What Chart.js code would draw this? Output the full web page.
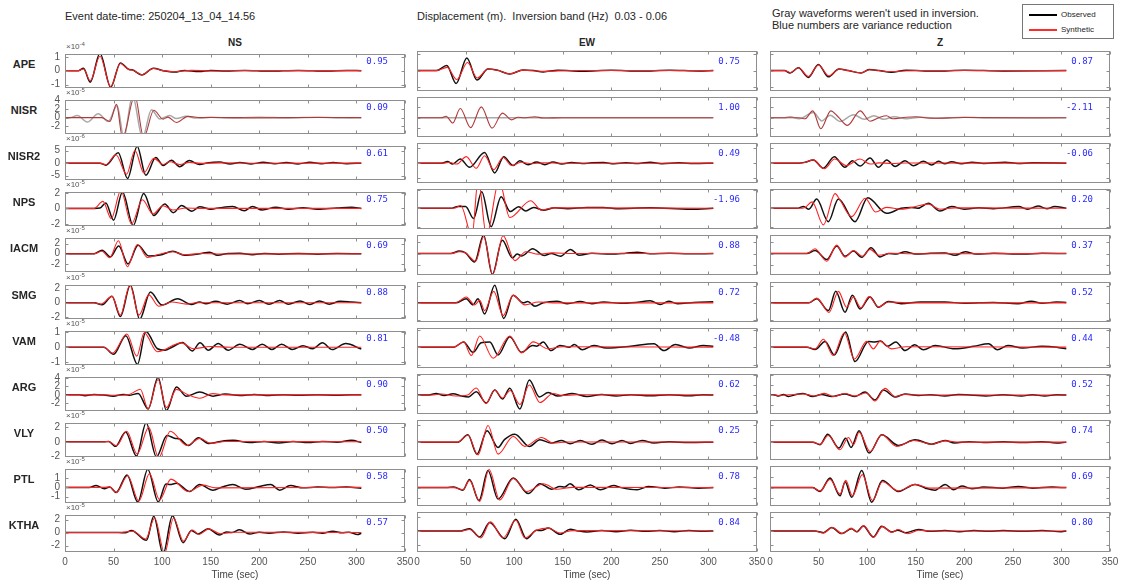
<!DOCTYPE html>
<html>
<head>
<meta charset="utf-8">
<script src="https://cdn.jsdelivr.net/npm/chart.js@4.4.1/dist/chart.umd.min.js"></script>
<style>
  body { margin: 0; background: #fff; font-family: "Liberation Sans", Arial, sans-serif; }
  #fig { position: relative; width: 1123px; height: 583px; overflow: hidden; }
  #fig canvas { position: absolute; }
  .txt { position: absolute; white-space: nowrap; line-height: 1; color: #262626; }
  .head { font-size: 11px; transform: translateY(-50%); }
  .comp { font-size: 10px; font-weight: bold; transform: translate(-50%, -50%); }
  .sta { font-size: 11px; font-weight: bold; transform: translate(-50%, -50%); }
  .expo { font-size: 8px; color: #555; transform: translateY(-50%); }
  .expo sup { font-size: 6px; vertical-align: 3px; }
  .vr { font-family: "DejaVu Sans Mono", monospace; font-size: 9px; color: #2b2bff; transform: translate(-100%, -50%); }
  .legend { position: absolute; left: 1022px; top: 4px; width: 90px; height: 33px; border: 1px solid #777; background: #fff; }
  .legend .ln { position: absolute; left: 6px; width: 28px; height: 2px; }
  .legend .lt { position: absolute; left: 38px; font-size: 8px; line-height: 1; transform: translateY(-50%); color: #262626; }
</style>
</head>
<body>
<div id="fig"></div>
<script>
// ---- layout data: stations, components, axis ticks ----
const stations = ['APE', 'NISR', 'NISR2', 'NPS', 'IACM', 'SMG', 'VAM', 'ARG', 'VLY', 'PTL', 'KTHA'];
const components = ['NS', 'EW', 'Z'];
const unusedStations = ['NISR'];   // drawn gray: not used in inversion
const exponents = [-4, -5, -6, -5, -5, -5, -5, -5, -5, -5, -5];
const yTickValues = [
  [-1, 0, 1], [-2, 0, 2, 4], [-5, 0, 5], [-2, 0, 2], [-2, 0, 2], [-2, 0, 2],
  [-1, 0, 1], [-2, 0, 2, 4], [-2, 0, 2], [-1, 0, 1], [-2, 0, 2]
];
const yRanges = [
  [-1.25, 1.2], [-3.7, 4], [-6.7, 6.8], [-2.25, 2.1], [-3.6, 3.1], [-2.3, 2.5],
  [-1.2, 1.1], [-3.8, 4.2], [-2.1, 2.6], [-1.7, 2.0], [-3.0, 2.7]
];
const xTickValues = [0, 50, 100, 150, 200, 250, 300, 350];
const varianceReduction = [
  ['0.95', '0.75', '0.87'], ['0.09', '1.00', '-2.11'], ['0.61', '0.49', '-0.06'],
  ['0.75', '-1.96', '0.20'], ['0.69', '0.88', '0.37'], ['0.88', '0.72', '0.52'],
  ['0.81', '-0.48', '0.44'], ['0.90', '0.62', '0.52'], ['0.50', '0.25', '0.74'],
  ['0.58', '0.78', '0.69'], ['0.57', '0.84', '0.80']
];

// ---- waveforms: [time (s), amplitude in units of 10^exponent] ----
const APE_NS_obs = [[0,0],[14,0],[19,0.17],[26,-0.83],[36,1.25],[47,-1.19],[57,0.56],[66,0.08],[69,0.06],[79,-0.31],[91,0.17],[101,0],[113,-0.1],[123,0.02],[138,-0.06],[150,0.02],[165,-0.03],[185,0.02],[210,-0.03],[240,0.02],[270,-0.03],[290,0.01],[305,0]];
const APE_NS_syn = [[0,0],[14,0],[19,0.12],[26,-0.73],[36,1.04],[47,-1.15],[57,0.52],[66,0.06],[69,0.05],[79,-0.29],[91,0.15],[101,0],[113,-0.08],[130,0.02],[150,-0.02],[180,0.01],[305,0]];
const APE_EW_obs = [[0,0],[20,0],[30.6,0.31],[40.3,-0.79],[51.3,0.77],[61.7,-0.58],[73,0.1],[83,0.02],[95.5,-0.21],[109,0.04],[120,0],[130,-0.08],[145,0.02],[170,-0.04],[200,0.02],[230,-0.03],[260,0.02],[290,-0.02],[305,0]];
const APE_EW_syn = [[0,0],[20,0],[31,0.2],[41,-0.55],[52,0.5],[62,-0.45],[73,0.08],[83,0.02],[95.5,-0.2],[109,0.03],[130,-0.05],[160,0.01],[305,0]];
const APE_Z_obs = [[0,0],[15,0],[20.6,-0.15],[29.2,0.17],[39.5,-0.42],[49.8,0.38],[60.1,-0.38],[71,0.1],[80.7,0],[93.7,-0.15],[102,0.06],[112,0],[125,-0.1],[140,0.02],[170,-0.03],[200,0.02],[240,-0.02],[305,0]];
const APE_Z_syn = [[0,0],[15,0],[21,-0.12],[29.5,0.17],[39.5,-0.36],[50,0.34],[60.5,-0.32],[71,0.08],[81,0],[93.7,-0.13],[102,0.05],[125,-0.06],[150,0.01],[305,0]];

const NISR_NS_obs = [[0,0],[5,0],[12.7,0.47],[22.9,-1.0],[34.2,0.87],[44.5,-0.87],[53.7,2.7],[60.6,-4.5],[69.5,5.0],[79.8,-4.5],[89,1.8],[97.6,-0.3],[108,0.47],[114.5,-0.2],[124.8,0.3],[135,-0.1],[150,0.1],[170,-0.1],[200,0.1],[230,-0.08],[260,0.1],[290,-0.1],[305,0]];
const NISR_NS_syn = [[0,0],[38,0],[46.2,-0.87],[53,3.0],[59.2,-4.5],[71.9,5.0],[81,-4.5],[91.4,1.67],[101,-0.33],[106,0.13],[114.7,-1.1],[126.6,0.3],[140,0],[160,0.05],[200,-0.05],[250,0.05],[305,0]];
const NISR_EW_obs = [[0,0],[305,0]];
const NISR_EW_syn = [[0,0],[25,0],[30,0.3],[36.8,-1.0],[44.5,1.8],[55.2,-1.9],[66.2,2.1],[77.3,-2.0],[88,0.9],[97.3,-0.4],[104,0.1],[110,0],[121.4,0.2],[130,-0.05],[150,0.02],[305,0]];
const NISR_Z_obs = [[0,0],[15,0],[20.6,0.2],[30,-0.2],[44.7,1.0],[53.3,-0.6],[61.9,0.5],[72,-0.7],[86,0.6],[97,-0.3],[107,0.4],[117,-0.3],[128,0.2],[140,-0.2],[155,0.1],[175,-0.1],[200,0.1],[230,-0.05],[305,0]];
const NISR_Z_syn = [[0,0],[30,0],[36,-0.2],[44,1.33],[52.3,-2.1],[62.6,1.33],[70,0.2],[79.7,-1.47],[92.8,1.33],[103,-0.67],[113,0.1],[120,0.4],[126,-0.2],[140,0.1],[150,0.2],[165,-0.1],[200,0.05],[305,0]];

const NISR2_NS_obs = [[0,0],[36,0],[42,-0.8],[54.8,4.1],[64.4,-6.1],[74.3,6.7],[83.2,-4.8],[93.5,2.2],[101,-0.9],[109.6,1.1],[118,-1.4],[128,1.0],[138.4,-0.55],[148,0.2],[159,0.4],[170,-0.3],[180,0.2],[192,-0.3],[204,0.3],[216,-0.2],[228,0.2],[240,-0.3],[252,0.3],[264,-0.2],[276,0.2],[290,-0.2],[305,0]];
const NISR2_NS_syn = [[0,0],[36,0],[42,-0.6],[52.4,3.3],[63.4,-4.4],[72,5.0],[81.2,-3.9],[91.4,1.9],[101,-0.55],[108,0.55],[118,-0.55],[128,0.3],[140,-0.1],[160,0.1],[200,-0.05],[305,0]];
const NISR2_EW_obs = [[0,0],[25,0],[31.5,0.55],[36.7,-0.3],[44.5,1.4],[54.1,-1.4],[69.6,3.6],[80,-3.3],[89.3,2.2],[98.9,-0.8],[105.8,0.8],[114.5,-0.55],[123,0.4],[131.6,-0.5],[140,0.4],[149,-0.3],[159,0.2],[170,-0.1],[180,0.1],[192,0.2],[203,-0.2],[215,0.1],[228,-0.1],[240,0.3],[252,-0.2],[270,0.1],[285,-0.1],[305,0]];
const NISR2_EW_syn = [[0,0],[28,0],[33,0.3],[40.9,-0.3],[50.7,2.2],[61,-1.7],[69.6,2.5],[79,-2.2],[88.6,1.9],[97.3,-0.8],[107,0.3],[118,-0.2],[130,0.1],[150,-0.05],[305,0]];
const NISR2_Z_obs = [[0,0],[30,0],[36,0.3],[44.6,1.1],[54.9,-1.7],[66.2,2.2],[77.2,-1.4],[84.8,0.8],[92.7,-1.0],[103,1.7],[111.6,-1.4],[120.2,1.1],[128.8,-1.1],[139,0.8],[147.6,-0.9],[158,0.6],[166.5,-0.6],[173.4,0.6],[180,-0.2],[187,0.5],[197,-0.2],[208,0.3],[220,-0.1],[242,0.3],[255,-0.1],[270,0.1],[305,0]];
const NISR2_Z_syn = [[0,0],[30,0],[36,0.2],[44.6,1.1],[56,-1.9],[66.5,1.4],[78.5,-0.8],[92.7,1.4],[103,-0.3],[112,0.1],[125,-0.1],[140,0.05],[305,0]];

const NPS_NS_obs = [[0,0],[30,0],[36,0.05],[42,0.7],[50,-1.5],[59.2,2.1],[70.2,-2.2],[81,1.9],[91.4,-0.9],[102.7,0.55],[111.5,-0.55],[120,0.36],[130.6,-0.36],[138.7,0.2],[150,-0.1],[160,0.1],[172.6,0.25],[184.6,-0.3],[193,0.25],[203,-0.2],[217,0.15],[230,-0.1],[245,0.1],[260,-0.1],[280,0.05],[295,0.15],[305,0]];
const NPS_NS_syn = [[0,0],[30,0],[39,0.9],[47.6,-1.3],[57.5,2.3],[68.4,-2.0],[79.7,1.1],[90.4,-0.7],[100.7,0.35],[111,-0.2],[125,0.05],[140,0],[305,0]];
const NPS_EW_obs = [[0,0],[35,0],[42,0.2],[50,0.2],[58.3,-1.1],[66.6,1.8],[76.3,-2.0],[86.6,1.27],[96,-0.36],[104.6,0.18],[112,-0.3],[120,0.1],[130,-0.2],[142,0.05],[155,-0.05],[175,0.1],[192,0.1],[205,-0.05],[240,0.05],[282,-0.1],[305,0]];
const NPS_EW_syn = [[0,0],[38,0],[45,0.3],[56.6,-3.0],[63,3.2],[71.5,-3.0],[84.5,3.0],[95.5,-1.0],[117,0.83],[128,-0.2],[140,0.05],[305,0]];
const NPS_Z_obs = [[0,0],[28,0],[34.5,0.2],[40,-0.1],[48.1,1.0],[60,-1.45],[70.4,1.0],[87.5,-1.45],[100.6,1.15],[120,-0.55],[135,0],[145,0.1],[152,0],[163,0.55],[175,-0.3],[187,0.2],[200,-0.1],[215,0.05],[230,-0.05],[256,0.2],[265,-0.1],[276,0.25],[285,-0.05],[293,0.2],[305,0]];
const NPS_Z_syn = [[0,0],[30,0],[36,0.1],[43.3,0.7],[55,-1.8],[67,1.6],[72,0.9],[84,-0.9],[98,1.1],[108.7,-0.4],[120,0.1],[135,-0.1],[150,0.2],[163,0.45],[175,-0.1],[190,0.05],[305,0]];

const IACM_NS_obs = [[0,0],[30,0],[38.2,0.69],[46.7,-0.63],[55.3,1.54],[64.9,-2.0],[75.2,1.66],[86.2,-0.46],[98,-0.25],[111,0.5],[123,-0.3],[138.6,0],[148.9,0.3],[157,-0.3],[168,0.05],[180,0.1],[193,-0.2],[205,0.05],[220,-0.1],[240,0.05],[260,-0.1],[280,0.05],[305,0]];
const IACM_NS_syn = [[0,0],[30,0],[38,0.5],[46,-0.8],[55,2.57],[64.2,-2.57],[74.5,1.83],[85,-0.74],[97,-0.1],[111,0.4],[123,-0.2],[140,0.05],[160,-0.05],[305,0]];
const IACM_EW_obs = [[0,0],[35,0],[43.6,0.4],[50,0.1],[59.3,-1.43],[68.6,3.1],[77.5,-3.5],[87.8,2.23],[98.2,-0.74],[103,-0.1],[108,-0.4],[119,0.8],[131,-0.34],[138,0],[147.8,-0.46],[158,0.69],[166.8,-0.3],[180,0.05],[200,-0.1],[215,0.05],[226.6,0.2],[240,-0.05],[260,0.05],[280,-0.05],[305,0]];
const IACM_EW_syn = [[0,0],[35,0],[43.6,0.3],[50,0.1],[60.4,-1.3],[68.6,2.8],[78,-3.5],[88.6,3.0],[100.7,-1.2],[112,0.3],[125,-0.1],[140,0.1],[160,0],[305,0]];
const IACM_Z_obs = [[0,0],[38,0],[46.4,0.5],[58.4,-1.0],[68.7,1.26],[77.2,-0.46],[86,0.4],[94.4,-0.63],[104,0.97],[113.3,-0.57],[122,0],[130,-0.1],[139,0.3],[150,-0.1],[165,0.05],[180,0.1],[190.5,-0.3],[201,0.3],[212,-0.1],[230,0.05],[260,-0.1],[280,0.05],[305,0]];
const IACM_Z_syn = [[0,0],[38,0],[46.4,0.8],[58.4,-1.3],[68.7,1.4],[77.2,-0.6],[86,0.5],[95,-0.46],[103,0.69],[112,-0.3],[125,0.05],[150,-0.05],[305,0]];

const SMG_NS_obs = [[0,0],[30,0],[38.2,-0.3],[48.4,0.9],[57,-1.95],[67.3,2.5],[76.9,-2.36],[87.9,1.5],[99.9,-0.33],[116,0.57],[130,-0.24],[138.6,0.1],[145,-0.15],[155,0.2],[167,-0.2],[179.8,0.3],[188,-0.15],[200,0.3],[210,-0.2],[221,0.3],[230,-0.2],[242,0.25],[252,-0.25],[262,0.25],[272,-0.2],[283,0.2],[295,0.1],[305,0]];
const SMG_NS_syn = [[0,0],[30,0],[37,-0.2],[48.4,0.9],[57,-1.75],[66.8,2.5],[76.2,-1.75],[86.2,1.1],[96.5,-0.5],[110,0.1],[125,-0.2],[135,0],[305,0]];
const SMG_EW_obs = [[0,0],[40,0],[50.7,0.5],[57.6,-0.24],[62.8,0.5],[69.6,-1.34],[80,2.1],[89.3,-1.87],[98.9,0.9],[109.3,0],[114,0.15],[121.4,-0.4],[130,0],[143.8,0.2],[155,-0.1],[168,0.15],[180,-0.1],[192,0.1],[210,-0.05],[225,0.05],[240,0.25],[250.5,-0.2],[259,0.2],[268,-0.1],[285,0.05],[305,0.12]];
const SMG_EW_syn = [[0,0],[40,0],[50.7,0.7],[59.3,-0.24],[64.6,0.3],[69.6,-0.93],[79,1.38],[88.6,-1.54],[98.9,0.9],[111,-0.24],[125,0.1],[140,0],[305,0]];
const SMG_Z_obs = [[0,0],[40,0],[48.1,0.5],[60.1,-0.93],[67.7,1.38],[77.2,-1.14],[84.8,0.9],[92.7,-0.73],[103,0.7],[111.6,-0.53],[121.9,0.16],[135,-0.1],[155,0.1],[180,0.1],[200,-0.05],[230,0.05],[255,-0.1],[269,0.2],[280,-0.05],[295,0.1],[305,0.05]];
const SMG_Z_syn = [[0,0],[40,0],[48.1,0.57],[60.8,-1.14],[70.4,1.38],[78.9,-0.53],[86,0.7],[93.5,-0.6],[102,0.75],[111.6,-0.5],[122,0.1],[140,0],[305,0]];

const VAM_NS_obs = [[0,0],[40,0],[50,-0.48],[62.6,0.78],[74.6,-1.16],[83.2,1.07],[95.2,-0.1],[103,-0.2],[110,0],[121,0.33],[131,-0.25],[139,0.3],[147.5,-0.2],[157.7,0.25],[168,-0.2],[180,0.2],[193,-0.15],[203,0.2],[213,-0.15],[223,0.2],[234,-0.15],[245,0.1],[255,-0.1],[265,0.3],[275,-0.15],[289,0.25],[305,-0.12]];
const VAM_NS_syn = [[0,0],[40,0],[49,-0.4],[63.7,0.9],[73.9,-0.6],[81.5,0.97],[95,-0.3],[119.7,0.3],[132,-0.1],[150,0.05],[170,0],[305,0]];
const VAM_EW_obs = [[0,0],[38,0],[48,0.3],[57.6,-0.3],[66,0.25],[75,0.3],[83.5,-0.45],[95.5,0.6],[107.6,-0.3],[119,0.1],[123,0.05],[130,0.3],[138,-0.2],[147,0.1],[157,0],[162,0.15],[170,-0.15],[182,0.1],[195,-0.05],[220,0.05],[244,0.2],[254,-0.2],[266,0.15],[280,-0.05],[295,0.1],[305,0.05]];
const VAM_EW_syn = [[0,0],[38,0],[48,0.3],[55.9,-0.48],[64.6,0.64],[78.4,-0.64],[95.5,0.64],[107.6,-0.33],[119.7,0.3],[135,-0.1],[150,0.02],[305,0]];
const VAM_Z_obs = [[0,0],[38,0],[46.4,-0.14],[56.7,0.33],[66.2,-0.45],[77.9,0.87],[87.5,-0.83],[101.3,0.33],[108,0.3],[114,0.35],[121,0.05],[129.6,0.3],[139,-0.2],[149,0.13],[158,-0.15],[170,0.1],[190,-0.1],[210,0.05],[225,0.2],[234,-0.15],[245,0.1],[260,-0.05],[280,0.05],[295,0],[305,-0.1]];
const VAM_Z_syn = [[0,0],[38,0],[46.4,-0.1],[55,0.45],[65,-0.48],[76.5,0.83],[86.8,-0.68],[99.6,0.33],[106.4,-0.1],[113.3,0.33],[125.3,-0.1],[140,0.02],[305,0]];

const ARG_NS_obs = [[0,0],[15,0],[20.5,-0.2],[30,0.1],[40,-0.05],[49.6,-0.3],[60,0.1],[66,-0.1],[75.3,0.33],[85.6,-3.3],[95.8,4.13],[104.4,-3.67],[114.7,1.87],[125,-0.33],[138.7,0.67],[152.4,-0.3],[165,0.2],[180,-0.15],[195,0.1],[210,-0.15],[225,0.05],[240,-0.1],[260,0.05],[280,-0.1],[295,0.05],[305,0]];
const ARG_NS_syn = [[0,0],[40,0],[50,-0.1],[66,0.1],[77.5,1.33],[85.6,-3.3],[95.8,3.6],[104.4,-3.0],[114.7,1.3],[126,0.1],[138.7,-0.8],[152,0.3],[165,0],[305,0]];
const ARG_EW_obs = [[0,0],[12,0],[19.6,0.3],[28,-0.1],[37,0.25],[46,-0.2],[53,-0.4],[61,0.67],[71.4,-1.6],[80,1.0],[88,-0.8],[95.5,1.33],[105.9,-2.8],[115.6,3.0],[126,-0.4],[135,0.5],[145,-0.2],[160,0.3],[175,-0.3],[190,0.1],[205,-0.2],[220,0.05],[240,-0.15],[260,0.05],[280,-0.15],[295,0.05],[305,0]];
const ARG_EW_syn = [[0,0],[15,0],[25,0.2],[40,-0.2],[52,0],[61,1.4],[71,-1.7],[80,1.0],[88,-0.6],[96,0.9],[106,-1.9],[115.6,2.0],[126.6,-1.5],[140,0.3],[150,-0.1],[165,0.05],[305,0]];
const ARG_Z_obs = [[0,0],[5,0],[8.6,-0.2],[14,0.1],[19,-0.3],[27,0.1],[34,0.3],[44,-0.3],[53,0.1],[63.5,-0.3],[77,0.2],[87.5,-0.3],[97.8,0.6],[108,-1.0],[116.7,1.0],[128.8,-0.4],[139,0.2],[153,-0.1],[165,0.05],[180,-0.2],[194,0.1],[210,-0.05],[222,-0.2],[240,0.05],[259,-0.2],[270,0.05],[283,-0.2],[295,0.05],[305,0]];
const ARG_Z_syn = [[0,0],[5,0],[8.6,-0.1],[20,0.05],[34,0.2],[46,-0.2],[56,0.33],[66,-0.3],[77,0.3],[87.5,-0.2],[99,0.4],[108,-1.2],[118.4,1.33],[128.8,-0.3],[139,0.1],[150,0],[305,0]];

const VLY_NS_obs = [[0,0],[40,0],[45,0.05],[52,-0.63],[62.4,1.37],[73.6,-1.96],[83.5,2.63],[94.1,-2.08],[105,0.86],[113.5,0.47],[118,0.4],[127,-0.51],[137.4,0.55],[147.6,-0.24],[160,0.05],[173,0.2],[190,-0.1],[205,0.05],[220,-0.15],[235,0.05],[250,-0.1],[265,0.05],[280,-0.05],[295,0.2],[305,-0.1]];
const VLY_NS_syn = [[0,0],[40,0],[45,0.05],[53,-0.55],[63.5,1.45],[74.3,-1.69],[86.2,2.0],[96.4,-2.2],[108.4,1.45],[125.6,-0.5],[139,0.47],[150,-0.2],[165,0.05],[305,0]];
const VLY_EW_obs = [[0,0],[42,0],[52.4,0.86],[61.7,-1.41],[72.1,1.33],[83.4,-0.63],[90,0.3],[100.7,0.94],[115.6,-0.51],[126.6,0.27],[138,-0.1],[149,0.2],[157.6,-0.2],[168,0.2],[180,-0.25],[190.4,0.25],[200.7,-0.2],[211,0.2],[219.7,-0.15],[231.8,0.2],[243.9,-0.1],[260,0.05],[280,-0.05],[305,0]];
const VLY_EW_syn = [[0,0],[42,0],[52.4,0.8],[62.8,-1.5],[73.1,1.96],[83.5,-1.41],[99,0.67],[111,-0.5],[128.3,0.55],[140,-0.1],[155,0.02],[305,0]];
const VLY_Z_obs = [[0,0],[44,0],[51.5,-0.3],[59.4,0.94],[71,-0.7],[77.9,0.47],[83.4,-0.63],[91.7,1.33],[102,-1.29],[115.1,0.86],[132.2,-0.39],[149.4,0.27],[166.5,-0.24],[180.3,0.2],[190,-0.1],[205,0.05],[220,-0.05],[240,0.05],[260,-0.05],[280,0.05],[295,-0.1],[305,0]];
const VLY_Z_syn = [[0,0],[44,0],[51.5,-0.25],[60,0.78],[72,-0.9],[80.7,0.55],[86,-0.3],[91.7,1.18],[103,-1.1],[115.1,0.86],[130.5,-0.5],[148,0.2],[166.5,-0.25],[180.3,0.15],[195,0],[305,0]];

const PTL_NS_obs = [[0,0],[25,0],[32,0.2],[40.6,-0.15],[46,0.05],[52.7,-0.55],[63.9,1.36],[74.9,-1.6],[85.2,1.97],[96,-1.58],[104,0.36],[108,0.3],[114.6,0.45],[128.3,-0.45],[138.6,0.3],[152.3,-0.3],[162,0.05],[172.6,0.3],[186,-0.2],[200,0.1],[212,0.3],[221,-0.3],[232,0.2],[245,-0.05],[260,0.05],[275,0],[290,0.05],[305,-0.1]];
const PTL_NS_syn = [[0,0],[40,0],[46,0.05],[53,-0.55],[64.5,1.27],[76,-1.5],[87,1.5],[97.3,-1.36],[109,0.9],[127,-0.45],[142,0.24],[155,-0.05],[305,0]];
const PTL_EW_obs = [[0,0],[30,0],[38,0.05],[47.2,-0.24],[54.1,0.76],[63.8,-1.2],[73.1,1.58],[83.4,-1.06],[99,0.9],[114.5,-0.55],[126.6,0.36],[138.7,-0.15],[147,0.1],[152,0.05],[157.6,0.36],[166.3,-0.2],[178.4,0.25],[188.7,-0.2],[202.5,0.2],[210,0],[226.7,-0.2],[238,0.1],[255,-0.05],[270,0.05],[290,-0.05],[305,0]];
const PTL_EW_syn = [[0,0],[38,0],[47.2,-0.2],[54.1,0.67],[64.6,-1.27],[74.2,1.67],[85.2,-1.15],[99,0.85],[113,-0.36],[130,0.36],[144,-0.15],[160,0.02],[305,0]];
const PTL_Z_obs = [[0,0],[44,0],[51.5,-0.36],[61.8,0.9],[72.1,-0.76],[77.3,0.55],[84.1,-0.9],[94.4,1.58],[104.7,-1.36],[115.7,0.67],[132.2,-0.36],[149.4,0.3],[160,-0.05],[170,-0.24],[180.3,0.3],[188.9,-0.2],[197.5,0.15],[207.8,-0.1],[220,0.05],[240,-0.05],[255.8,0.1],[270,-0.05],[290,0.05],[305,0]];
const PTL_Z_syn = [[0,0],[44,0],[51.5,-0.3],[61.8,0.76],[72.1,-0.6],[78,0.67],[84.8,-0.76],[95,1.2],[105.5,-1.2],[115.7,0.55],[132.2,-0.3],[149.4,0.3],[165,-0.05],[305,0]];

const KTHA_NS_obs = [[0,0],[55,0],[62,-0.05],[68.4,0.33],[83.9,-1.2],[91.4,2.5],[101,-3.3],[110.6,2.6],[121.5,-1.57],[130.1,0.33],[137,-0.24],[147.2,0.57],[159.2,-0.38],[166,0.1],[172,0],[179.7,0.43],[190,-0.24],[200,0.05],[210,-0.1],[225,0.1],[240,-0.1],[255,0.05],[265,-0.1],[275.6,0.2],[285,-0.05],[292,0.05],[301.3,-0.3],[305,-0.1]];
const KTHA_NS_syn = [[0,0],[55,0],[70,0.2],[83,-1.0],[92.3,2.24],[102.5,-3.2],[111.7,2.24],[122,-1.33],[131,0.4],[138,-0.3],[148,0.57],[160,-0.2],[175,0.05],[305,0]];
const KTHA_EW_obs = [[0,0],[45,0],[54.1,0.33],[64.5,-0.86],[74.8,1.2],[90.4,-1.1],[101.7,1.67],[112.8,-1.1],[123,0.1],[128,0.05],[135.2,0.43],[147.3,-0.48],[157.6,0.24],[166,0],[174.9,-0.14],[190,0.05],[205,-0.1],[220,0.1],[235,-0.05],[250,0.05],[265,-0.1],[280,0.05],[295,-0.05],[305,0]];
const KTHA_EW_syn = [[0,0],[45,0],[54.1,0.2],[65.6,-1.0],[75.6,1.29],[88.6,-1.0],[101.7,1.52],[111,-1.0],[123,0.1],[135.2,0.4],[147.3,-0.3],[160,0.05],[305,0]];
const KTHA_Z_obs = [[0,0],[46,0],[55,-0.24],[63.5,0.48],[73.8,-0.38],[84,0.33],[89.2,-0.1],[96,0.7],[106.4,-0.86],[115,0.67],[125.3,-0.14],[131.5,0.1],[139,-0.24],[153,0.2],[165,-0.05],[180,0.05],[195,-0.1],[210,0.05],[225,-0.05],[240,0.05],[260,-0.05],[280,0.05],[300,-0.1],[305,0]];
const KTHA_Z_syn = [[0,0],[46,0],[55,-0.3],[64,0.5],[74.5,-0.38],[83.5,0.4],[90,-0.14],[96.5,0.76],[106.4,-0.9],[115.7,0.62],[125.3,-0.2],[132,0.2],[142,-0.4],[153,0.1],[165,0],[305,0]];

const observed = {
  APE: [APE_NS_obs, APE_EW_obs, APE_Z_obs],
  NISR: [NISR_NS_obs, NISR_EW_obs, NISR_Z_obs],
  NISR2: [NISR2_NS_obs, NISR2_EW_obs, NISR2_Z_obs],
  NPS: [NPS_NS_obs, NPS_EW_obs, NPS_Z_obs],
  IACM: [IACM_NS_obs, IACM_EW_obs, IACM_Z_obs],
  SMG: [SMG_NS_obs, SMG_EW_obs, SMG_Z_obs],
  VAM: [VAM_NS_obs, VAM_EW_obs, VAM_Z_obs],
  ARG: [ARG_NS_obs, ARG_EW_obs, ARG_Z_obs],
  VLY: [VLY_NS_obs, VLY_EW_obs, VLY_Z_obs],
  PTL: [PTL_NS_obs, PTL_EW_obs, PTL_Z_obs],
  KTHA: [KTHA_NS_obs, KTHA_EW_obs, KTHA_Z_obs]
};
const synthetic = {
  APE: [APE_NS_syn, APE_EW_syn, APE_Z_syn],
  NISR: [NISR_NS_syn, NISR_EW_syn, NISR_Z_syn],
  NISR2: [NISR2_NS_syn, NISR2_EW_syn, NISR2_Z_syn],
  NPS: [NPS_NS_syn, NPS_EW_syn, NPS_Z_syn],
  IACM: [IACM_NS_syn, IACM_EW_syn, IACM_Z_syn],
  SMG: [SMG_NS_syn, SMG_EW_syn, SMG_Z_syn],
  VAM: [VAM_NS_syn, VAM_EW_syn, VAM_Z_syn],
  ARG: [ARG_NS_syn, ARG_EW_syn, ARG_Z_syn],
  VLY: [VLY_NS_syn, VLY_EW_syn, VLY_Z_syn],
  PTL: [PTL_NS_syn, PTL_EW_syn, PTL_Z_syn],
  KTHA: [KTHA_NS_syn, KTHA_EW_syn, KTHA_Z_syn]
};

// ---- page geometry ----
const fig = document.getElementById('fig');
const colLeft = [65, 417, 770];
const boxW = 340, boxH = 40;
const rowTop0 = 51, rowStep = 46.1;

Chart.defaults.font.family = '"Liberation Sans", Arial, sans-serif';

function addText(html, x, y, cls) {
  const d = document.createElement('div');
  d.className = 'txt ' + cls;
  d.style.left = x + 'px';
  d.style.top = y + 'px';
  d.innerHTML = html;
  fig.appendChild(d);
  return d;
}

// MATLAB-like box with inward ticks on all four sides
const axesBox = {
  id: 'axesBox',
  afterDatasetsDraw(chart, args, opts) {
    const { ctx, chartArea: a, scales: { x, y } } = chart;
    ctx.save();
    ctx.lineWidth = 1;
    ctx.strokeStyle = '#8e8e8e';
    const L = Math.round(a.left) + 0.5, R = Math.round(a.right) - 0.5;
    const T = Math.round(a.top) + 0.5, B = Math.round(a.bottom) - 0.5;
    ctx.strokeRect(L, T, R - L, B - T);
    ctx.beginPath();
    opts.yTicks.forEach(v => {
      const py = Math.round(y.getPixelForValue(v)) + 0.5;
      ctx.moveTo(L, py); ctx.lineTo(L + 3, py);
      ctx.moveTo(R, py); ctx.lineTo(R - 3, py);
    });
    xTickValues.forEach(v => {
      const px = Math.round(x.getPixelForValue(v)) + 0.5;
      ctx.moveTo(px, B); ctx.lineTo(px, B - 3);
      ctx.moveTo(px, T); ctx.lineTo(px, T + 3);
    });
    ctx.stroke();
    ctx.restore();
  }
};

// ---- header texts ----
addText('Event date-time: 250204_13_04_14.56', 65, 16, 'head');
addText('Displacement (m).&nbsp; Inversion band (Hz)&nbsp; 0.03 - 0.06', 417, 16, 'head');
addText('Gray waveforms weren\'t used in inversion.', 772, 13, 'head');
addText('Blue numbers are variance reduction', 772, 25, 'head');
components.forEach((name, c) => addText(name, colLeft[c] + boxW / 2, 43, 'comp'));

const legend = document.createElement('div');
legend.className = 'legend';
legend.innerHTML =
  '<div class="ln" style="top:9px;background:#000"></div><div class="lt" style="top:10px">Observed</div>' +
  '<div class="ln" style="top:24px;background:#ff2a2a"></div><div class="lt" style="top:25px">Synthetic</div>';
fig.appendChild(legend);

// ---- one small chart per station / component ----
stations.forEach((sta, r) => {
  const top = Math.round(rowTop0 + r * rowStep);
  const last = r === stations.length - 1;
  const gray = unusedStations.includes(sta);

  addText(sta, 24, top + 13, 'sta');
  addText('&times;10<sup>' + exponents[r] + '</sup>', 66, top - 5, 'expo');

  components.forEach((comp, c) => {
    const padL = c === 0 ? 32 : 14, padR = 14, padT = 8, padB = last ? 36 : 8;
    const canvas = document.createElement('canvas');
    canvas.width = boxW + padL + padR;
    canvas.height = boxH + padT + padB;
    canvas.style.left = (colLeft[c] - padL) + 'px';
    canvas.style.top = (top - padT) + 'px';
    fig.appendChild(canvas);

    const toXY = pts => pts.map(([x, y]) => ({ x, y }));

    new Chart(canvas.getContext('2d'), {
      type: 'line',
      data: {
        datasets: [
          {
            label: 'Synthetic',
            data: toXY(synthetic[sta][c]),
            borderColor: gray ? '#b03a3a' : '#ff2020',
            borderWidth: 1.1,
            pointRadius: 0,
            cubicInterpolationMode: 'monotone',
            clip: 0,
            order: 0
          },
          {
            label: 'Observed',
            data: toXY(observed[sta][c]),
            borderColor: gray ? '#a8a8a8' : '#111',
            borderWidth: 1.5,
            pointRadius: 0,
            cubicInterpolationMode: 'monotone',
            clip: 0,
            order: 1
          }
        ]
      },
      options: {
        responsive: false,
        animation: false,
        events: [],
        layout: { padding: { left: c === 0 ? 2 : padL, right: padR, top: padT, bottom: last ? 0 : padB } },
        plugins: {
          legend: { display: false },
          tooltip: { enabled: false },
          axesBox: { yTicks: yTickValues[r] }
        },
        scales: {
          x: {
            type: 'linear',
            min: 0,
            max: 350,
            display: last,
            afterBuildTicks: s => { s.ticks = xTickValues.map(v => ({ value: v })); },
            afterFit: s => { if (last) s.height = 36; },
            grid: { display: false, drawTicks: false },
            border: { display: false },
            ticks: { autoSkip: false, maxRotation: 0, padding: 4, color: '#555', font: { size: 10 } },
            title: { display: true, text: 'Time (sec)', color: '#444', font: { size: 10 }, padding: { top: 0, bottom: 7 } }
          },
          y: {
            type: 'linear',
            min: yRanges[r][0],
            max: yRanges[r][1],
            display: c === 0,
            afterBuildTicks: s => { s.ticks = yTickValues[r].map(v => ({ value: v })); },
            afterFit: s => { if (c === 0) s.width = 30; },
            grid: { display: false, drawTicks: false },
            border: { display: false },
            ticks: { autoSkip: false, padding: 5, color: '#555', font: { size: 10 } }
          }
        }
      },
      plugins: [axesBox]
    });

    addText(varianceReduction[r][c], colLeft[c] + 323, top + 10, 'vr');
  });
});
</script>
</body>
</html>
